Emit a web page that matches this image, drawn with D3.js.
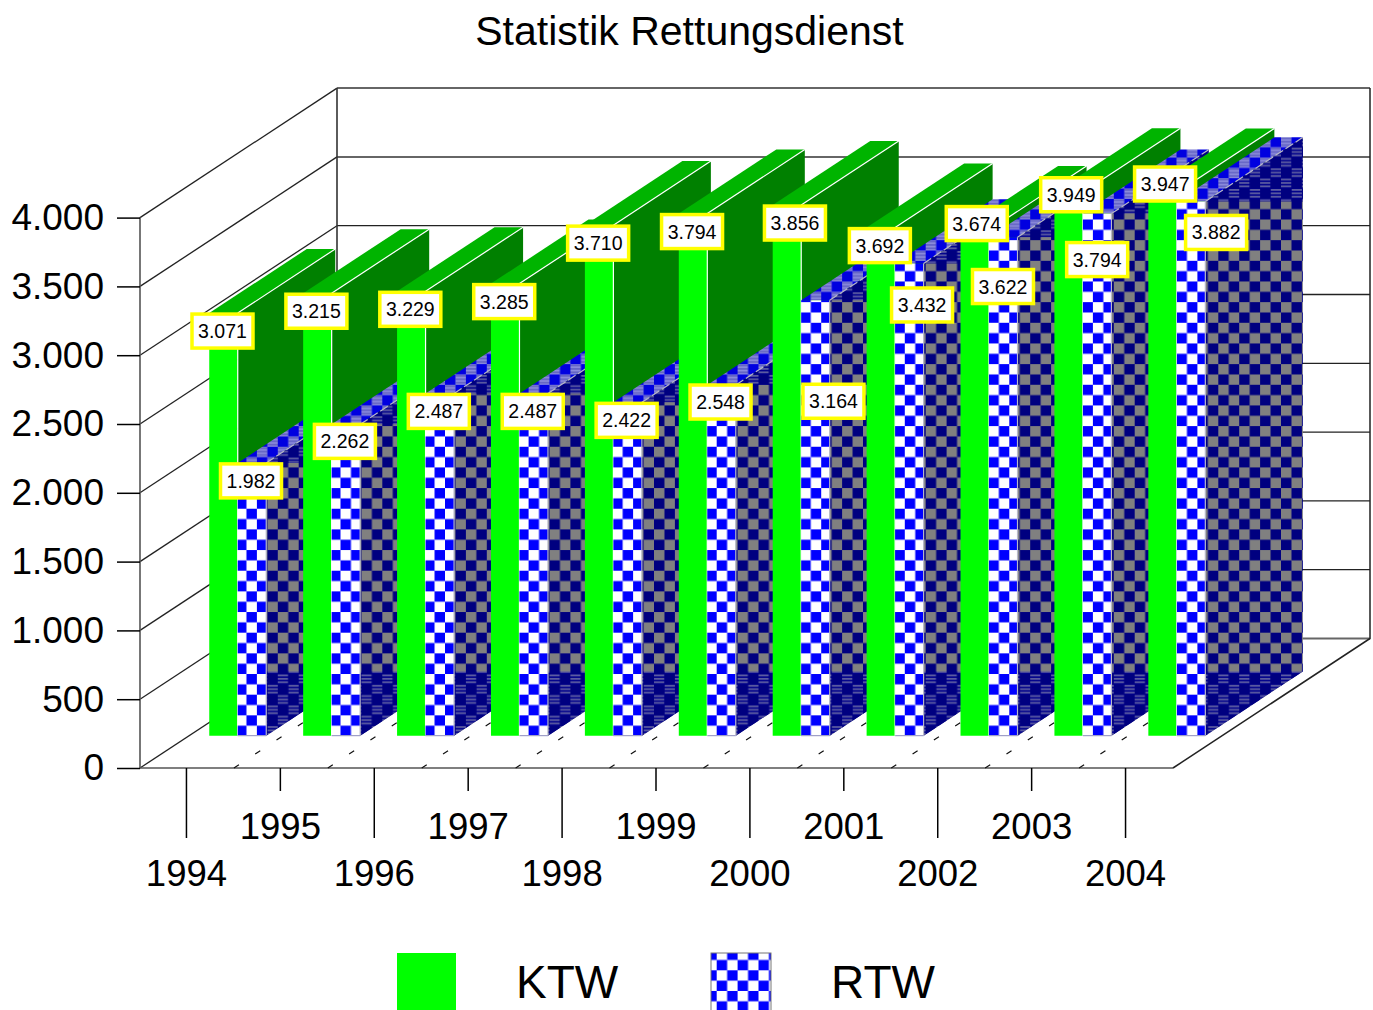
<!DOCTYPE html>
<html>
<head>
<meta charset="utf-8">
<script src="https://cdn.jsdelivr.net/npm/d3@7"></script>
<style>
  html, body { margin: 0; padding: 0; background: #fff; overflow: hidden; }
  text { font-family: "Liberation Sans", Arial, sans-serif; fill: #000; }
</style>
</head>
<body>
<div id="my_dataviz"></div>
<script>
// the values
var years = ["1994", "1995", "1996", "1997", "1998", "1999", "2000", "2001", "2002", "2003", "2004"];
var seriesNames = ["KTW", "RTW"];
var ktwValues = [3071, 3215, 3229, 3285, 3710, 3794, 3856, 3692, 3674, 3949, 3947];
var rtwValues = [1982, 2262, 2487, 2487, 2422, 2548, 3164, 3432, 3622, 3794, 3882];
var yTicks = [0, 500, 1000, 1500, 2000, 2500, 3000, 3500, 4000];

var width = 1373, height = 1010;
var floor = {left: 140, right: 1173, front: 768, top: 217.6};
var depth = {dx: 197, dy: -129.5, barFront: 0.25, barBack: 0.745};
var cellW = 10.45, cellH = 10.33;

// some value boxes were dragged away from their bars in the original: [dx, dy]
var ktwLabelShift = [[0, 0], [0, 0], [0, 0], [0, 0], [0, 0], [0, 0], [9, 0], [0, 0], [3, -24.5], [3.5, -15.5], [3.5, -26.5]];
var rtwLabelShift = [[0, 0], [0, -1], [0, 0], [0, 0], [0, 0], [0, -1], [19, 83], [13.7, 23.6], [0.7, 31.3], [1, 28], [26, 13]];

var svg = d3.select("#my_dataviz")
  .append("svg")
    .attr("width", width)
    .attr("height", height)
    .style("display", "block");

var de = d3.formatLocale({decimal: ",", thousands: ".", grouping: [3], currency: ["", " €"]});
var fmt = de.format(",d");

var x = d3.scaleBand().domain(years).range([floor.left, floor.right]);
// the two bars inside one year
var xInner = d3.scaleBand().domain(seriesNames).range([20, 77]);
var y = d3.scaleLinear().domain([0, 4000]).range([floor.front, floor.top]);
var zx = d3.scaleLinear().domain([0, 1]).range([0, depth.dx]);
var zy = d3.scaleLinear().domain([0, 1]).range([0, depth.dy]);

var poly = d3.line();

// checker fills. x0/y0 = lower left corner of a cell in the "on" colour
var defs = svg.append("defs");
function checker(id, x0, y0, on, off, stripe) {
  var p = defs.append("pattern")
    .attr("id", id)
    .attr("patternUnits", "userSpaceOnUse")
    .attr("x", x0)
    .attr("y", y0 - 2 * cellH)
    .attr("width", 2 * cellW)
    .attr("height", 2 * cellH);
  p.append("rect").attr("width", 2 * cellW).attr("height", 2 * cellH).attr("fill", off);
  if (stripe) {
    // the off cells are banded in the top and bottom triangles
    [[cellW, cellH], [0, 0]].forEach(function(c) {
      d3.range(0.5, cellH - 1, 3.4).forEach(function(s) {
        p.append("rect").attr("x", c[0]).attr("y", c[1] + s)
          .attr("width", cellW).attr("height", 1.8).attr("fill", stripe);
      });
    });
  }
  p.append("rect").attr("x", 0).attr("y", cellH).attr("width", cellW).attr("height", cellH).attr("fill", on);
  p.append("rect").attr("x", cellW).attr("y", 0).attr("width", cellW).attr("height", cellH).attr("fill", on);
}
checker("rtwFront", 236, 736, "#0000ff", "#ffffff");
checker("rtwSide", 236, 736, "#000080", "#808080");
checker("rtwSideBand", 236, 736, "#000080", "#00008c", "#5c5ca0");
checker("rtwTop", 236, 736, "#0000e0", "#8c8cdc", "#6464c4");
checker("rtwLegend", 716.7, 970.3, "#0000ff", "#ffffff");

// walls and gridlines
var grid = svg.append("g").attr("class", "grid");
grid.selectAll(".wall")
  .data(yTicks)
  .enter()
  .append("line")
    .attr("x1", floor.left)
    .attr("y1", function(d) { return y(d); })
    .attr("x2", floor.left + zx(1))
    .attr("y2", function(d) { return y(d) + zy(1); })
    .attr("stroke", "#222")
    .attr("stroke-width", 1.3);
grid.selectAll(".back")
  .data(yTicks)
  .enter()
  .append("line")
    .attr("x1", floor.left + zx(1))
    .attr("y1", function(d) { return y(d) + zy(1); })
    .attr("x2", floor.right + zx(1))
    .attr("y2", function(d) { return y(d) + zy(1); })
    .attr("stroke", function(d) { return d >= 3500 || d == 0 ? "#666" : "#222"; })
    .attr("stroke-width", function(d) { return d >= 3500 || d == 0 ? 2 : 1.3; });
// wall verticals + floor edges
grid.append("path")
  .attr("fill", "none").attr("stroke", "#555").attr("stroke-width", 1.6)
  .attr("d", poly([[floor.left, y(4000)], [floor.left, y(0)], [floor.right, y(0)]]));
grid.append("path")
  .attr("fill", "none").attr("stroke", "#333").attr("stroke-width", 1.6)
  .attr("d", poly([[floor.left + zx(1), y(4000) + zy(1)], [floor.left + zx(1), y(0) + zy(1)]]));
grid.append("path")
  .attr("fill", "none").attr("stroke", "#222").attr("stroke-width", 1.5)
  .attr("d", poly([[floor.right, y(0)], [floor.right + zx(1), y(0) + zy(1)], [floor.right + zx(1), y(4000) + zy(1)]]));

// dashes on the floor between the years
svg.append("g").selectAll("line")
  .data(years.slice(1))
  .enter()
  .append("line")
    .attr("x1", function(d) { return x(d); })
    .attr("y1", y(0))
    .attr("x2", function(d) { return x(d) + zx(depth.barBack); })
    .attr("y2", y(0) + zy(depth.barBack))
    .attr("stroke", "#111")
    .attr("stroke-width", 1.2)
    .attr("stroke-dasharray", "6 19.5");

// one bar = top, side and front polygons
function barFaces(xLeft, barWidth, value) {
  var zf = depth.barFront, zb = depth.barBack;
  var l = xLeft + zx(zf), r = l + barWidth;
  var bl = l + zx(zb) - zx(zf), br = r + zx(zb) - zx(zf);
  var topF = y(value) + zy(zf), topB = y(value) + zy(zb);
  var botF = y(0) + zy(zf), botB = y(0) + zy(zb);
  return {
    l: l, r: r, bl: bl, br: br, topF: topF, topB: topB, botF: botF, botB: botB,
    front: [[l, topF], [r, topF], [r, botF], [l, botF]],
    top: [[l, topF], [bl, topB], [br, topB], [r, topF]],
    side: [[r, topF], [br, topB], [br, botB], [r, botF]],
    sideUpper: [[r, topF], [br, topB], [br, topF]],
    sideLower: [[r, botF], [br, botB], [r, botB]]
  };
}

function addPoly(g, points, fill) {
  return g.append("path").attr("d", poly(points) + "Z").attr("fill", fill);
}
function addEdge(g, a, b, color, dash) {
  return g.append("line")
    .attr("x1", a[0]).attr("y1", a[1]).attr("x2", b[0]).attr("y2", b[1])
    .attr("stroke", color)
    .attr("stroke-width", 1.2)
    .attr("stroke-dasharray", dash || null);
}

var bars = svg.append("g").attr("class", "bars");
var labelData = [];

// left to right, later bars hide the sides of earlier ones
years.forEach(function(year, i) {
  var g = bars.append("g");

  var k = barFaces(x(year) + xInner("KTW"), xInner.bandwidth(), ktwValues[i]);
  addPoly(g, k.top, "#00b400");
  addPoly(g, k.side, "#008000");
  addPoly(g, k.front, "#00ff00");
  addEdge(g, [k.r, k.topF], [k.br, k.topB], "#ffffff");
  addEdge(g, [k.r, k.topF], [k.r, k.botF], "#ffffff");

  var r = barFaces(x(year) + xInner("RTW"), xInner.bandwidth(), rtwValues[i]);
  addPoly(g, r.top, "url(#rtwTop)");
  addPoly(g, r.side, "url(#rtwSide)");
  addPoly(g, r.sideUpper, "url(#rtwSideBand)");
  addPoly(g, r.sideLower, "url(#rtwSideBand)");
  addPoly(g, r.front, "url(#rtwFront)");
  addEdge(g, [r.r, r.topF], [r.br, r.topB], "#b8b8c8", "9 3");
  addEdge(g, [r.r, r.topF], [r.r, r.botF], "#b8b8c8");
  addEdge(g, [r.l, r.botF], [r.r, r.botF], "#a0a0c8");

  labelData.push({text: fmt(ktwValues[i]), cx: (k.l + k.r) / 2 - 1 + ktwLabelShift[i][0], cy: k.topF + 18 + ktwLabelShift[i][1]});
  labelData.push({text: fmt(rtwValues[i]), cx: (r.l + r.r) / 2 - 1 + rtwLabelShift[i][0], cy: r.topF + 18 + rtwLabelShift[i][1]});
});

// value boxes go on top of everything
var labels = svg.append("g").selectAll("g")
  .data(labelData)
  .enter()
  .append("g")
    .attr("transform", function(d) { return "translate(" + d.cx + "," + d.cy + ")"; });
labels.append("rect")
  .attr("x", -30.5).attr("y", -17)
  .attr("width", 61).attr("height", 34)
  .attr("fill", "#fff")
  .attr("stroke", "#ffff00")
  .attr("stroke-width", 3.5);
labels.append("text")
  .attr("text-anchor", "middle")
  .attr("y", 7)
  .style("font-size", "19.5px")
  .text(function(d) { return d.text; });

// Y axis
var yAxis = svg.append("g")
  .attr("transform", "translate(" + floor.left + ",0)")
  .call(d3.axisLeft(y).tickValues(yTicks).tickSize(23).tickPadding(13).tickFormat(fmt));
yAxis.select(".domain").remove();
yAxis.selectAll("line").attr("stroke", "#000").attr("stroke-width", 1.5);
yAxis.selectAll("text").style("font-size", "37px").attr("font-family", null);

// X axis, even years hang lower
var xAxis = svg.append("g")
  .attr("transform", "translate(-0.5," + floor.front + ")")
  .call(d3.axisBottom(x).tickSizeOuter(0));
xAxis.select(".domain").remove();
xAxis.selectAll("line")
  .attr("stroke", "#000")
  .attr("stroke-width", 1.5)
  .attr("y2", function(d, i) { return i % 2 ? 23 : 70; });
xAxis.selectAll("text")
  .attr("dy", null)
  .attr("y", function(d, i) { return i % 2 ? 71 : 118; })
  .style("font-size", "36.5px")
  .attr("font-family", null);

// title
svg.append("text")
  .attr("x", 689.5)
  .attr("y", 45)
  .attr("text-anchor", "middle")
  .style("font-size", "41px")
  .text("Statistik Rettungsdienst");

// legend
svg.append("rect").attr("x", 397).attr("y", 953).attr("width", 59).attr("height", 60).attr("fill", "#00ff00");
svg.append("rect").attr("x", 711).attr("y", 953).attr("width", 60).attr("height", 60)
  .attr("fill", "url(#rtwLegend)").attr("stroke", "#777").attr("stroke-width", 1);
svg.append("text").attr("x", 516).attr("y", 998).style("font-size", "46px").text(seriesNames[0]);
svg.append("text").attr("x", 831).attr("y", 998).style("font-size", "46px").text(seriesNames[1]);
</script>
</body>
</html>
